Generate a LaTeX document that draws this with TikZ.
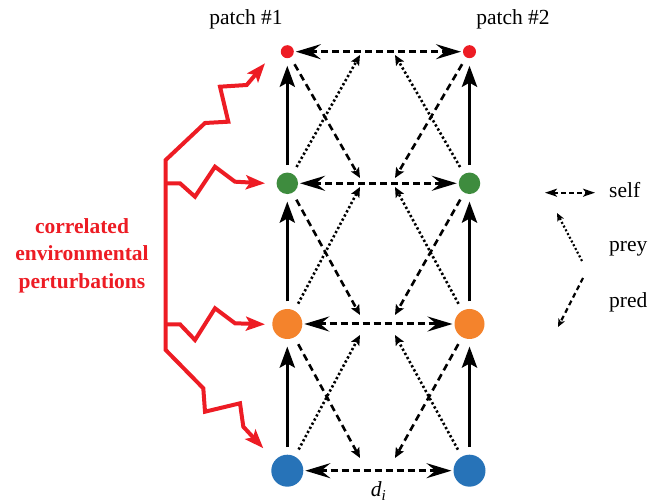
\documentclass[tikz,border=0pt]{standalone}
\usepackage{fontspec}
\setmainfont{Liberation Serif}
\usetikzlibrary{arrows.meta}

\definecolor{pertred}{RGB}{237,28,36}
\definecolor{leafgreen}{RGB}{62,140,62}
\definecolor{midorange}{RGB}{244,131,44}
\definecolor{basblue}{RGB}{39,115,184}

\begin{document}
\begin{tikzpicture}[x=1pt,y=-1pt,
  species/.style={circle,inner sep=0pt,outer sep=0pt},
  growth/.style={line width=3.6pt,-{Stealth[length=21pt,width=15pt,inset=4pt]},
    shorten <=7.5pt,shorten >=7.5pt},
  selflink/.style={line width=3pt,dash pattern=on 7pt off 4pt,
    {Stealth[length=25pt,width=15pt,inset=9pt]}-{Stealth[length=25pt,width=15pt,inset=9pt]},
    shorten <=2pt,shorten >=2pt},
  preylink/.style={line width=2.6pt,dash pattern=on 2.3pt off 2.4pt,
    -{Stealth[length=10pt,width=9pt,inset=2pt]},shorten <=8pt},
  predlink/.style={line width=2.6pt,dash pattern=on 7pt off 4.5pt,
    -{Stealth[length=10pt,width=9pt,inset=2pt]},shorten <=8pt},
  perturb/.style={pertred,line width=4pt,line join=miter},
  perttip/.style={-{Stealth[length=19pt,width=14pt,inset=4pt]}},
  keyself/.style={line width=2pt,dash pattern=on 5pt off 3pt,
    {Stealth[length=12pt,width=8pt,inset=3pt]}-{Stealth[length=12pt,width=8pt,inset=3pt]}},
  keyprey/.style={line width=2.2pt,dash pattern=on 2pt off 2.2pt,
    -{Stealth[length=8pt,width=7pt,inset=2pt]}},
  keypred/.style={line width=2.2pt,dash pattern=on 5pt off 3.5pt,
    -{Stealth[length=8pt,width=7pt,inset=2pt]}},
  txt/.style={font=\fontsize{21.5}{26}\selectfont,inner sep=0pt},
]
\useasboundingbox (0,0) rectangle (662,502);

% trophic levels in the two patches
\node[species,fill=pertred,minimum size=13pt]     (r1) at (287.3,51.7) {};
\node[species,fill=pertred,minimum size=13pt]     (r2) at (469.5,51.7) {};
\node[species,fill=leafgreen,minimum size=21.5pt] (g1) at (287.3,183.3) {};
\node[species,fill=leafgreen,minimum size=21.5pt] (g2) at (469.5,183.3) {};
\node[species,fill=midorange,minimum size=30pt]   (o1) at (287.3,324) {};
\node[species,fill=midorange,minimum size=30pt]   (o2) at (469.5,324) {};
\node[species,fill=basblue,minimum size=32pt]     (b1) at (287.3,470.7) {};
\node[species,fill=basblue,minimum size=32pt]     (b2) at (469.5,470.7) {};

% patch labels
\node[txt,anchor=base] (lab1) at (246,25) {patch \#1};
\node[txt,anchor=base] (lab2) at (513,25) {patch \#2};

% dispersal within each level
\foreach \s in {r,g,o,b}
  \draw[selflink] (\s1) -- (\s2);

% bottom-up flow
\draw[growth] (g1) -- (r1);
\draw[growth] (g2) -- (r2);
\draw[growth] (o1) -- (g1);
\draw[growth] (o2) -- (g2);
\draw[growth] (b1) -- (o1);
\draw[growth] (b2) -- (o2);

% cross-patch predator and prey effects
\foreach \up/\lo/\yd/\yp in {r/g/178/55, g/o/315/187, o/b/458/335}{
  \coordinate (dl-\up) at (360,\yd);
  \coordinate (dr-\up) at (395,\yd);
  \coordinate (pl-\up) at (360,\yp);
  \coordinate (pr-\up) at (395,\yp);
  \draw[predlink] (\up1) -- (dl-\up);
  \draw[predlink] (\up2) -- (dr-\up);
  \draw[preylink] (\lo1) -- (pl-\up);
  \draw[preylink] (\lo2) -- (pr-\up);
}

% distance label
\node[txt,anchor=base] (dist) at (378.5,497) {\itshape d\textsubscript{i}};

% legend
\coordinate (ks1) at (545,192.7);
\coordinate (ks2) at (595,192.7);
\coordinate (ky1) at (582,261);
\coordinate (ky2) at (557,213);
\coordinate (kd1) at (583,278);
\coordinate (kd2) at (558,327);
\draw[keyself] (ks1) -- (ks2);
\draw[keyprey] (ky1) -- (ky2);
\draw[keypred] (kd1) -- (kd2);
\node[txt,anchor=base west] (kself) at (609,198) {self};
\node[txt,anchor=base west] (kprey) at (609,252) {prey};
\node[txt,anchor=base west] (kpred) at (609,308) {pred};

% environmental perturbations
\node[pertred,font=\bfseries\fontsize{21.5}{27.5}\selectfont,align=center,inner sep=0pt]
  (cap) at (82,255.7) {correlated\\environmental\\perturbations};

\coordinate (hitR) at (265,63.3);
\coordinate (hitG) at (265,183.3);
\coordinate (hitO) at (265,324.3);
\coordinate (hitB) at (263.3,448.3);
\draw[perturb,{Stealth[length=19pt,width=14pt,inset=4pt]}-{Stealth[length=19pt,width=14pt,inset=4pt]}]
  (hitR) -- (246.7,85) -- (220,86.7) -- (228.3,121.7) -- (205,123) -- (165.7,160)
  -- (165.7,350) -- (203.3,388.3) -- (205,411.7) -- (240,403.3) -- (243.3,426.7) -- (hitB);
\draw[perturb,perttip] (165.7,183.3) -- (180,183.3) -- (195,196.7) -- (215,166.7)
  -- (235,181.7) -- (hitG);
\draw[perturb,perttip] (165.7,324.3) -- (180,324.3) -- (195,340) -- (215,308.3)
  -- (235,323.3) -- (hitO);
\end{tikzpicture}
\end{document}
